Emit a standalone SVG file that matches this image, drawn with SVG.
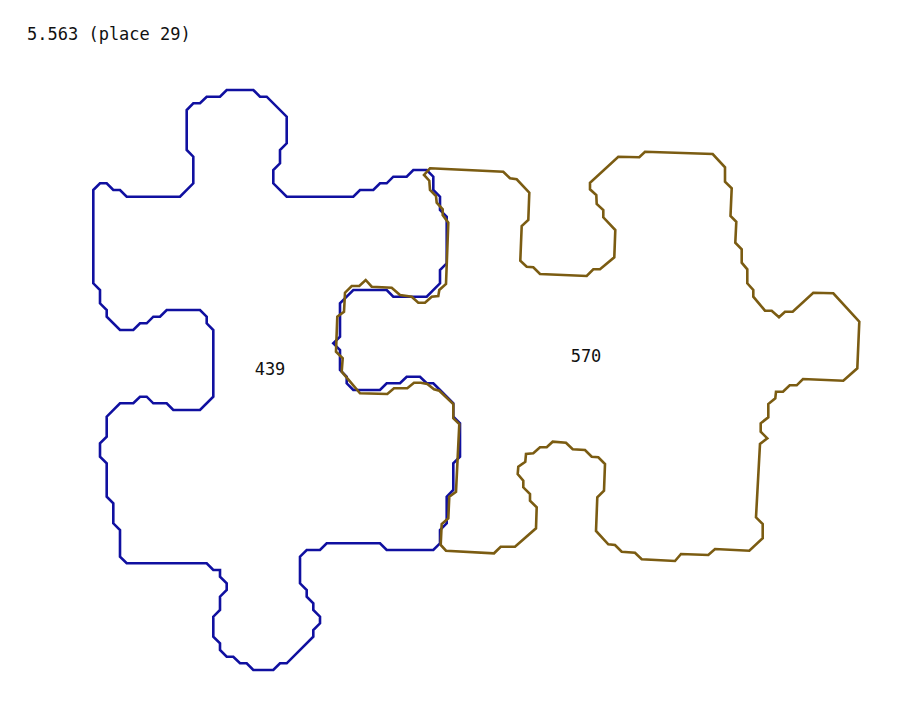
<svg xmlns="http://www.w3.org/2000/svg" width="909" height="706" viewBox="0 0 909 706">
<style>
.t{font-family:"DejaVu Sans Mono","Liberation Mono",monospace;font-size:17px;fill:#111}
.piece{fill:none;stroke-width:2.6;stroke-linejoin:miter}
.blue{stroke:#1010a0}
.gold{stroke:#7b5c12}
</style>
<rect width="909" height="706" fill="#fff"/>
<text class="t" x="27" y="40">5.563 (place 29)</text>
<g id="piece-439">
<polygon class="piece blue" points="93.3,190 100,183.3 106.7,183.3 113.3,190 120,190 126.7,196.7 180,196.7 193.3,183.3 193.3,156.7 186.7,150 186.7,110 193.3,103.3 200,103.3 206.7,96.7 220,96.7 226.7,90 253.3,90 260,96.7 266.7,96.7 286.7,116.7 286.7,143.3 280,150 280,163.3 273.3,170 273.3,183.3 286.7,196.7 353.3,196.7 360,190 373.3,190 380,183.3 386.7,183.3 393.3,176.7 406.7,176.7 413.3,170 426.7,170 433.3,176.7 433.3,190 440,196.7 440,210 446.7,216.7 446.7,263.3 440,270 440,283.3 426.7,296.7 393.3,296.7 386.7,290 353.3,290 346.7,296.7 340,303.3 340,336.7 333.3,343.3 340,350 340,370 346.7,376.7 346.7,383.3 353.3,390 380,390 386.7,383.3 400,383.3 406.7,376.7 420,376.7 426.7,383.3 433.3,383.3 440,390 446.7,396.7 453.3,403.3 453.3,416.7 460,423.3 460,456.7 453.3,463.3 453.3,490 446.7,496.7 446.7,523.3 440,530 440,543.3 433.3,550 386.7,550 380,543.3 326.7,543.3 320,550 306.7,550 300,556.7 300,583.3 306.7,590 306.7,596.7 313.3,603.3 313.3,610 320,616.7 320,623.3 313.3,630 313.3,636.7 286.7,663.3 280,663.3 273.3,670 253.3,670 246.7,663.3 240,663.3 233.3,656.7 226.7,656.7 220,650 220,643.3 213.3,636.7 213.3,616.7 220,610 220,596.7 226.7,590 226.7,583.3 220,576.7 220,570 213.3,570 206.7,563.3 126.7,563.3 120,556.7 120,530 113.3,523.3 113.3,503.3 106.7,496.7 106.7,463.3 100,456.7 100,443.3 106.7,436.7 106.7,416.7 120,403.3 133.3,403.3 140,396.7 146.7,396.7 153.3,403.3 166.7,403.3 173.3,410 200,410 213.3,396.7 213.3,330 206.7,323.3 206.7,316.7 200,310 166.7,310 160,316.7 153.3,316.7 146.7,323.3 140,323.3 133.3,330 120,330 106.7,316.7 106.7,310 100,303.3 100,290 93.3,283.3"/>
<text class="t" x="270" y="375" text-anchor="middle">439</text>
</g>
<g id="piece-570">
<polygon class="piece gold" points="430,168.3 503.3,171.7 510,178.3 516.7,179.3 529.3,192.7 528.3,220 521.7,226 520.3,260.7 526.7,266.7 533.3,267.3 540,274 586.7,276 593.3,269.3 600,269.3 614.3,257.3 615.3,230 603.3,217.3 603.3,210 596.7,204 596.3,195 590,189.3 590,182.7 618.3,156.7 639.3,157.3 645,151.7 712.7,154 725,167.3 725,181.7 731.7,188.3 730.5,216 736.3,221.7 735.3,242.7 741.7,249.3 741.7,262.7 747.3,269.3 747.3,283.3 753.3,290 753.3,296.7 765,310.7 771.7,310.7 779,317.3 785,311.7 792.7,311.7 813.3,292.7 833.3,293.3 859.3,321.7 857.3,368.3 843.3,380.7 803,379 796.7,385.3 789.7,385.3 783,391.7 776,391.7 775.3,398.3 768.3,404 768.3,417.3 760.7,423.3 760.7,431.7 767.3,438.3 760,444 756,517.3 762.7,524 762.7,538.3 749.3,550.7 715,549 708.3,555 681,554 675,561 641.7,559.3 635,552.7 621.7,551.7 615,545 608.3,544.3 596,531 597.3,497.3 604,490.7 605,464 598.3,457.3 591.7,456.7 585,450 572.7,449.3 566,442.7 552.7,441.7 546.7,447.3 540,447.3 533.3,453.3 526,454 525.3,461.7 518.3,466.7 517.7,474 523.3,480.7 523.3,487.3 530,494 530,500.7 536.7,507.3 536,528.3 515,546.7 500.7,546.7 494,553.3 446,550.7 440.7,545 441.7,524 448.3,518.3 449.3,496.7 456,491.7 459.3,424 453.3,418.3 453.3,404 439.3,390.7 434,389.3 427.3,384 420.7,382.7 414,382.7 407.3,388.3 394,388.3 387.3,394 360,393.3 341.7,371.7 342.7,358.3 336,351.7 337.3,316.7 344,311.7 345,292.7 351.7,286 359.3,286 365.7,280 371.7,286.7 391.7,287.7 400,295 411.7,296.7 418.3,302.7 425,302.7 431.7,296.7 438.3,296 439.3,290 446,284 448.3,222.7 442.7,215 442.7,209.3 436.7,202.7 436,196 430,190 429.3,180.7 424,175"/>
<text class="t" x="586" y="362" text-anchor="middle">570</text>
</g>
<g id="connectors"></g>
</svg>
